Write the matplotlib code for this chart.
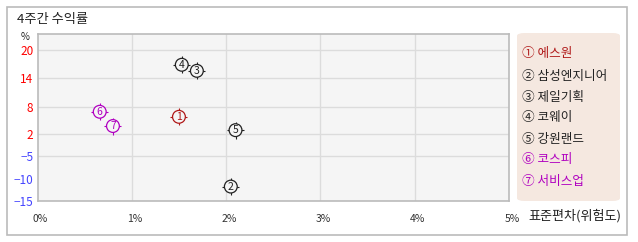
import numpy as np
import matplotlib
matplotlib.use("Agg")
import matplotlib.pyplot as plt
from matplotlib.patches import FancyBboxPatch, Rectangle
import matplotlib.transforms as mtrans

plt.rcParams['font.family'] = ['Noto Sans CJK KR', 'DejaVu Sans']

names = ["에스원", "삼성엔지니어", "제일기획", "코웨이", "강원랜드", "코스피", "서비스업"]
marks = ["①", "②", "③", "④", "⑤", "⑥", "⑦"]
risk = [1.50, 2.05, 1.69, 1.53, 2.10, 0.66, 0.80]      # 표준편차 (%)
ret = [5.8, -11.7, 15.6, 16.9, 2.9, 6.9, 3.8]          # 4주간 수익률 (%)
colors = ["#b01818", "#222222", "#222222", "#222222", "#222222", "#b000c0", "#b000c0"]

y_ticks = [-15, -10, -5, 2, 8, 14, 20]
y_grid = [-5, 2, 8, 14, 20]
x_ticks = [0, 1, 2, 3, 4, 5]
x_tick_labels = ["0%", "1%", "2%", "3%", "4%", "5%"]

# piecewise axis mapping (non-uniform tick spacing of the original)
y_vals = np.array([-15, -10, -5, 2, 8, 14, 20, 23.4])
y_pos = np.array([0, 22.3, 45, 67, 94.6, 123, 151, 167.0])

def fwd(v):
    return np.interp(v, y_vals, y_pos)

def inv(p):
    return np.interp(p, y_pos, y_vals)

W, H = 638, 242
fig = plt.figure(figsize=(W / 100, H / 100), dpi=100)
fig.patch.set_facecolor("white")
renderer = fig.canvas.get_renderer()

def fit_size(s, target_px, base=10.0):
    t = fig.text(0, 0, s, fontsize=base)
    w = t.get_window_extent(renderer).width
    t.remove()
    return base * target_px / w

# outer frame
fig.add_artist(Rectangle((7 / W, 1 - 235 / H), (627 - 7) / W, (235 - 7) / H,
                         transform=fig.transFigure, facecolor="white",
                         edgecolor="#bbbbbb", lw=1.2, zorder=0))

ax = fig.add_axes([37.5 / W, 1 - 201.3 / H, (509 - 37.5) / W, (201.3 - 34.3) / H])
ax.set_facecolor("#f5f5f5")
ax.set_yscale("function", functions=(fwd, inv))
ax.set_xlim(0, 5)
ax.set_ylim(-15, 23.4)

for v in y_grid:
    ax.axhline(v, color="#dcdcdc", lw=1.0, zorder=1)
for v in x_ticks[1:-1]:
    ax.axvline(v, color="#dcdcdc", lw=1.0, zorder=1)

for s in ax.spines.values():
    s.set_color("#bbbbbb")
    s.set_linewidth(1.2)

ax.set_yticks(y_ticks)
ax.set_yticklabels([str(v).replace("-", "\u2212") for v in y_ticks], fontsize=8.5)
for lab, v in zip(ax.get_yticklabels(), y_ticks):
    lab.set_color("#ff0000" if v > 0 else "#4444ff")
ax.set_xticks(x_ticks)
ax.set_xticklabels(x_tick_labels, fontsize=7.5, color="#333333", ha="center")
ax.tick_params(axis="both", length=0)
ax.tick_params(axis="y", pad=3)
ax.tick_params(axis="x", pad=9)
for lab in ax.get_xticklabels():
    lab.set_transform(lab.get_transform() + mtrans.ScaledTranslation(
        3 / 100, 0, fig.dpi_scale_trans))

# markers: ticks, circle, number
ax.scatter(risk, ret, marker="+", s=150, c=colors, linewidths=0.8, zorder=3, clip_on=False)
ax.scatter(risk, ret, marker="o", s=85, facecolors="#f5f5f5", edgecolors=colors,
           linewidths=0.9, zorder=4, clip_on=False)
for i, (xi, yi, c) in enumerate(zip(risk, ret, colors)):
    ax.text(xi, yi, str(i + 1), color=c, fontsize=7.5,
            ha="center", va="center", zorder=5)

# titles
title = "4주간 수익률"
fig.text(17 / W, 1 - 19 / H, title, fontsize=fit_size(title, 71), color="#222222",
         ha="left", va="center")
fig.text(25 / W, 1 - 37 / H, "%", fontsize=7, color="#222222", ha="center", va="center")
xlab = "표준편차(위험도)"
fig.text(528 / W, 1 - 216 / H, xlab, fontsize=fit_size(xlab, 93), color="#222222",
         ha="left", va="center")

# legend box
lx0, lx1, ly0, ly1 = 517, 620, 33, 201
fig.add_artist(FancyBboxPatch((lx0 / W, 1 - ly1 / H), (lx1 - lx0) / W, (ly1 - ly0) / H,
                              boxstyle="round,pad=0,rounding_size=0.012",
                              transform=fig.transFigure, facecolor="#f5e8e0",
                              edgecolor="none", zorder=1))
leg_labels = [m + " " + n for m, n in zip(marks, names)]
leg_size = fit_size(leg_labels[1], 85)
leg_y = [54, 76, 97, 118, 139, 160, 181]
for lab, c, yy in zip(leg_labels, colors, leg_y):
    fig.text(521.5 / W, 1 - yy / H, lab, fontsize=leg_size, color=c, ha="left",
             va="center", zorder=2)

fig.savefig("out.png", dpi=100)
